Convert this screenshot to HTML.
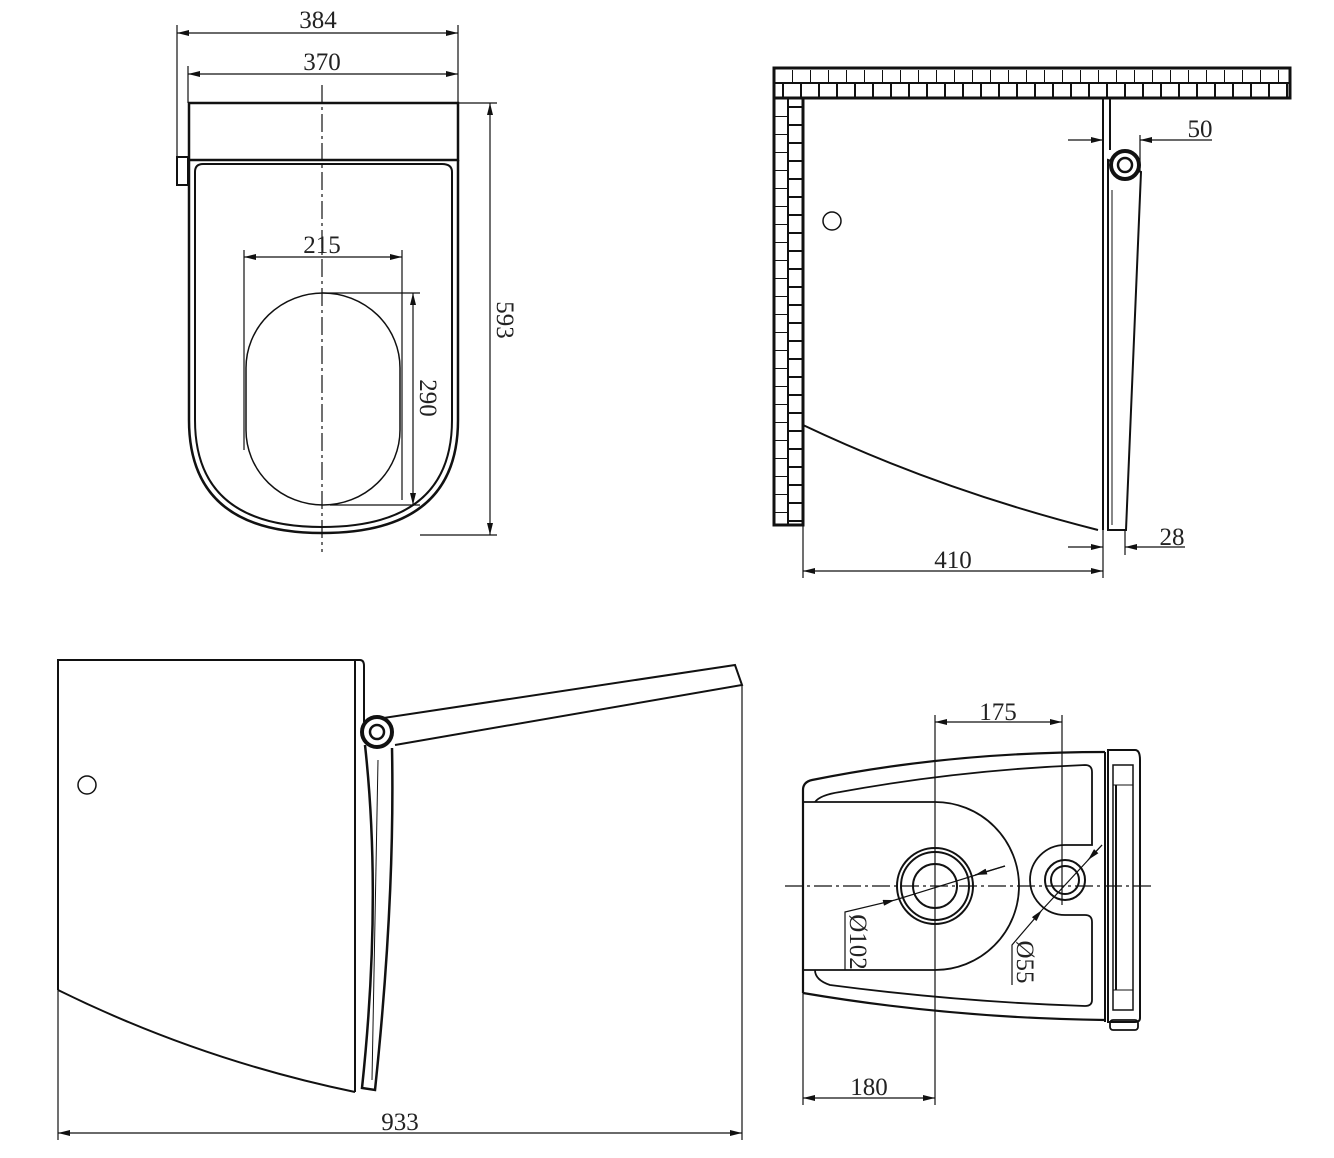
<!DOCTYPE html>
<html><head><meta charset="utf-8"><style>
html,body{margin:0;padding:0;background:#fff}
svg{display:block}
text{font-family:"Liberation Serif",serif;font-size:25px;fill:#222}
</style></head><body>
<svg width="1334" height="1158" viewBox="0 0 1334 1158" xmlns="http://www.w3.org/2000/svg">
<defs>
<marker id="a" viewBox="0 0 12 6" refX="12" refY="3" markerWidth="14" markerHeight="6" orient="auto-start-reverse" markerUnits="userSpaceOnUse"><path d="M0,0 L12,3 L0,6 z" fill="#111"/></marker>
<pattern id="brick" x="774" y="68" width="18" height="30" patternUnits="userSpaceOnUse">
<rect width="18" height="30" fill="#fff"/>
<path d="M0,15 H18 M0,2 V15 M9,15 V30" stroke="#111" stroke-width="2" fill="none"/>
</pattern>
<pattern id="brickv" x="774" y="98" width="29" height="18" patternUnits="userSpaceOnUse">
<rect width="29" height="18" fill="#fff"/>
<path d="M14,0 V18 M0,0 H14 M14,9 H29" stroke="#111" stroke-width="2" fill="none"/>
</pattern>
</defs>
<g stroke="#111" fill="none" stroke-width="1.2">
<!-- ===== Front view top-left ===== -->
<line x1="177" y1="25" x2="177" y2="160"/>
<line x1="458" y1="25" x2="458" y2="103"/>
<line x1="177" y1="33" x2="458" y2="33" marker-start="url(#a)" marker-end="url(#a)"/>
<line x1="188" y1="66" x2="188" y2="103"/>
<line x1="188" y1="74" x2="458" y2="74" marker-start="url(#a)" marker-end="url(#a)"/>
<rect x="189" y="103" width="269" height="57" stroke-width="2.5"/>
<rect x="177" y="157" width="11" height="28" stroke-width="2"/>
<path d="M189,160 V420 Q189,533 322,533 Q458,533 458,420 V160" stroke-width="2.5"/>
<path d="M195,172 Q195,164 203,164 H442 Q452,164 452,172 V420 Q452,527 322,527 Q195,527 195,420 Z" stroke-width="2"/>
<line x1="322" y1="85" x2="322" y2="552" stroke-dasharray="18,4,3,4"/>
<line x1="458" y1="103" x2="497" y2="103"/>
<line x1="420" y1="535" x2="497" y2="535"/>
<line x1="490" y1="103" x2="490" y2="535" marker-start="url(#a)" marker-end="url(#a)"/>
<line x1="244" y1="250" x2="244" y2="450"/>
<line x1="402" y1="250" x2="402" y2="500"/>
<line x1="244" y1="257" x2="402" y2="257" marker-start="url(#a)" marker-end="url(#a)"/>
<rect x="246" y="293" width="154" height="212" rx="77" ry="75" stroke-width="1.5"/>
<line x1="322" y1="293" x2="420" y2="293"/>
<line x1="330" y1="505" x2="420" y2="505"/>
<line x1="413" y1="293" x2="413" y2="505" marker-start="url(#a)" marker-end="url(#a)"/>

<!-- ===== Side view top-right ===== -->
<rect x="774" y="68" width="516" height="30" fill="url(#brick)" stroke-width="3"/>
<rect x="774" y="98" width="29" height="427" fill="url(#brickv)" stroke-width="3"/>
<line x1="803" y1="98" x2="803" y2="525" stroke-width="3"/>
<path d="M803,425 Q940,490 1098,530" stroke-width="2"/>
<line x1="1103" y1="98" x2="1103" y2="530" stroke-width="2"/>
<line x1="1110" y1="98" x2="1110" y2="150" stroke-width="2"/>
<path d="M1108,160 L1141,172 L1126,530 L1108,530 Z" stroke-width="2"/>
<line x1="1112" y1="190" x2="1112" y2="525" stroke-width="1"/>
<circle cx="1125" cy="165" r="14" fill="#fff" stroke-width="4"/>
<circle cx="1125" cy="165" r="7" stroke-width="2.5"/>
<circle cx="832" cy="221" r="9" stroke-width="1.5"/>
<line x1="1140" y1="135" x2="1140" y2="172"/>
<line x1="1068" y1="140" x2="1103" y2="140" marker-end="url(#a)"/>
<line x1="1140" y1="140" x2="1212" y2="140" marker-start="url(#a)"/>
<line x1="803" y1="525" x2="803" y2="578"/>
<line x1="1103" y1="530" x2="1103" y2="578"/>
<line x1="1125" y1="530" x2="1125" y2="555"/>
<line x1="803" y1="571" x2="1103" y2="571" marker-start="url(#a)" marker-end="url(#a)"/>
<line x1="1068" y1="547" x2="1103" y2="547" marker-end="url(#a)"/>
<line x1="1125" y1="547" x2="1185" y2="547" marker-start="url(#a)"/>

<!-- ===== Side view bottom-left ===== -->
<path d="M58,990 V660 H360 Q364,660 364,666 V722" stroke-width="2"/>
<line x1="355" y1="660" x2="355" y2="1092" stroke-width="2"/>
<path d="M58,990 Q200,1060 355,1092" stroke-width="2"/>
<circle cx="87" cy="785" r="9" stroke-width="1.5"/>
<path d="M370,720 L735,665 L742,685 L395,745" stroke-width="2"/>
<path d="M365,745 Q382,900 362,1088 L375,1090 Q395,900 392,748" stroke-width="2.5"/>
<line x1="378" y1="760" x2="372" y2="1080" stroke-width="1"/>
<circle cx="377" cy="732" r="15" fill="#fff" stroke-width="4"/>
<circle cx="377" cy="732" r="7" stroke-width="2.5"/>
<line x1="58" y1="990" x2="58" y2="1140"/>
<line x1="742" y1="685" x2="742" y2="1140"/>
<line x1="58" y1="1133" x2="742" y2="1133" marker-start="url(#a)" marker-end="url(#a)"/>

<!-- ===== Top view bottom-right ===== -->
<path d="M803,993 V790 Q803,782 812,780 Q950,752 1105,752" stroke-width="2.2"/>
<path d="M803,993 Q950,1018 1105,1020" stroke-width="2.2"/>
<path d="M815,802 Q820,795 840,792 Q960,770 1085,765 Q1092,765 1092,772 V845 H1065 A35,35 0 0 0 1065,915 H1085 Q1092,915 1092,922 V1000 Q1092,1006 1085,1006 Q960,1002 830,985 Q815,980 815,970" stroke-width="1.8"/>
<path d="M803,802 H935 A84,84 0 0 1 935,970 H803" stroke-width="1.8"/>
<line x1="1105" y1="752" x2="1105" y2="1022" stroke-width="2"/>
<path d="M1108,750 H1135 Q1140,750 1140,760 V1018 Q1140,1022 1135,1022 H1108 Z" stroke-width="2"/>
<rect x="1113" y="765" width="20" height="245" stroke-width="1.5"/>
<line x1="1116" y1="785" x2="1116" y2="990" stroke-width="2"/>
<line x1="1113" y1="785" x2="1133" y2="785" stroke-width="1"/>
<line x1="1113" y1="990" x2="1133" y2="990" stroke-width="1"/>
<rect x="1110" y="1020" width="28" height="10" rx="3" stroke-width="1.8"/>
<circle cx="935" cy="886" r="38" stroke-width="2"/>
<circle cx="935" cy="886" r="34" stroke-width="2"/>
<circle cx="935" cy="886" r="22" stroke-width="2"/>
<circle cx="1065" cy="880" r="20" stroke-width="2"/>
<circle cx="1065" cy="880" r="14" stroke-width="2"/>
<line x1="785" y1="886" x2="1155" y2="886" stroke-dasharray="18,4,3,4"/>
<line x1="935" y1="715" x2="935" y2="1105"/>
<line x1="1062" y1="715" x2="1062" y2="905"/>
<line x1="935" y1="722" x2="1062" y2="722" marker-start="url(#a)" marker-end="url(#a)"/>
<line x1="803" y1="993" x2="803" y2="1105"/>
<line x1="803" y1="1098" x2="935" y2="1098" marker-start="url(#a)" marker-end="url(#a)"/>
<path d="M845,970 V912 L895,900" marker-end="url(#a)"/>
<line x1="895" y1="900" x2="1005" y2="866"/>
<line x1="1005" y1="866" x2="975" y2="875" marker-end="url(#a)"/>
<path d="M1012,985 V945 L1042,910" marker-end="url(#a)"/>
<line x1="1042" y1="910" x2="1102" y2="845"/>
<line x1="1102" y1="845" x2="1088" y2="860" marker-end="url(#a)"/>
</g>
<g>
<text x="318" y="28" text-anchor="middle">384</text>
<text x="322" y="70" text-anchor="middle">370</text>
<text x="322" y="253" text-anchor="middle">215</text>
<text transform="translate(497,320) rotate(90)" text-anchor="middle">593</text>
<text transform="translate(420,398) rotate(90)" text-anchor="middle">290</text>
<text x="1200" y="137" text-anchor="middle">50</text>
<text x="953" y="568" text-anchor="middle">410</text>
<text x="1172" y="545" text-anchor="middle">28</text>
<text x="400" y="1130" text-anchor="middle">933</text>
<text x="998" y="720" text-anchor="middle">175</text>
<text x="869" y="1095" text-anchor="middle">180</text>
<text transform="translate(850,942) rotate(90)" text-anchor="middle">Ø102</text>
<text transform="translate(1017,962) rotate(90)" text-anchor="middle">Ø55</text>
</g>
</svg>
</body></html>
